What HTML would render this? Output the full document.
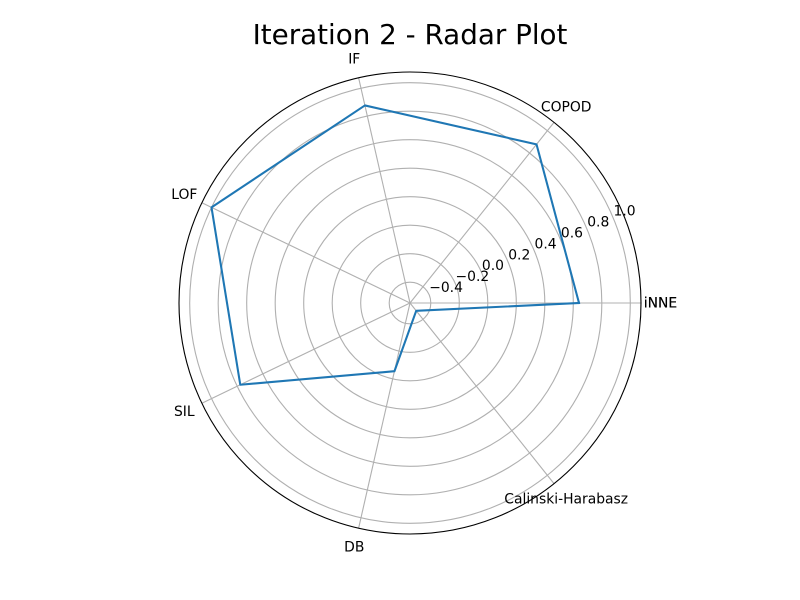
<!DOCTYPE html>
<html>
<head>
<meta charset="utf-8">
<title>Iteration 2 - Radar Plot</title>
<style>
html,body{margin:0;padding:0;background:#fff;width:800px;height:600px;overflow:hidden}
svg{display:block}
text{font-family:"DejaVu Sans","Liberation Sans",sans-serif;fill:#000}
</style>
</head>
<body>
<svg id="chart" xmlns="http://www.w3.org/2000/svg" width="800" height="600" viewBox="0 0 800 600">
<rect x="0" y="0" width="800" height="600" fill="#ffffff"/>
<text x="410" y="44" text-anchor="middle" font-size="27.78">Iteration 2 - Radar Plot</text>
</svg>
<script>
const categories = ['iNNE', 'COPOD', 'IF', 'LOF', 'SIL', 'DB', 'Calinski-Harabasz', 'iNNE'];
const seriesValues = [0.64, 0.878, 0.876, 1.0, 0.776, -0.055, -0.476, 0.64];
const radialTicks = [-0.4, -0.2, 0.0, 0.2, 0.4, 0.6, 0.8, 1.0];
const radialTickLabels = ['\u22120.4', '\u22120.2', '0.0', '0.2', '0.4', '0.6', '0.8', '1.0'];
const radialMin = -0.546;
const radialMax = 1.075;

const svgNS = 'http://www.w3.org/2000/svg';
const svg = document.getElementById('chart');
const cx = 410, cy = 303, outerRadius = 231;
const spokeCount = categories.length - 1;

function rScale(v) { return (v - radialMin) / (radialMax - radialMin) * outerRadius; }
function thetaAt(i) { return i / spokeCount * 2 * Math.PI; }
function px(theta, r) { return cx + r * Math.cos(theta); }
function py(theta, r) { return cy - r * Math.sin(theta); }
function make(tag, attrs) {
  const el = document.createElementNS(svgNS, tag);
  Object.keys(attrs).forEach(function (k) { el.setAttribute(k, attrs[k]); });
  svg.appendChild(el);
  return el;
}

radialTicks.forEach(function (t) {
  const ring = make('circle', { cx: cx, cy: cy, r: rScale(t), fill: 'none', stroke: '#b0b0b0', 'stroke-width': 1.11 });
  
  
});

categories.forEach(function (c, i) {
  const th = thetaAt(i);
  const spoke = make('line', { x1: cx, y1: cy, x2: px(th, outerRadius), y2: py(th, outerRadius), stroke: '#b0b0b0', 'stroke-width': 1.11 });
  
  
});

const points = seriesValues.map(function (v, i) {
  const th = thetaAt(i);
  return px(th, rScale(v)).toFixed(2) + ',' + py(th, rScale(v)).toFixed(2);
}).join(' ');
const seriesLine = make('polyline', { points: points, fill: 'none', stroke: '#1f77b4', 'stroke-width': 2.08, 'stroke-linejoin': 'round', 'stroke-linecap': 'square' });



const spine = make('circle', { cx: cx, cy: cy, r: outerRadius, fill: 'none', stroke: '#000000', 'stroke-width': 1.11 });



categories.forEach(function (c, i) {
  const th = thetaAt(i);
  const label = make('text', { x: px(th, 250.5), y: py(th, 250.5) + 4.5, 'text-anchor': 'middle', 'font-size': 13.89 });
  label.textContent = c;
  
  
});

const labelTheta = 22.5 * Math.PI / 180;
radialTicks.forEach(function (t, i) {
  const r = rScale(t);
  const label = make('text', { x: px(labelTheta, r), y: py(labelTheta, r) - 3, 'text-anchor': 'start', 'font-size': 13.89 });
  label.textContent = radialTickLabels[i];
  
  
});
</script>
</body>
</html>
